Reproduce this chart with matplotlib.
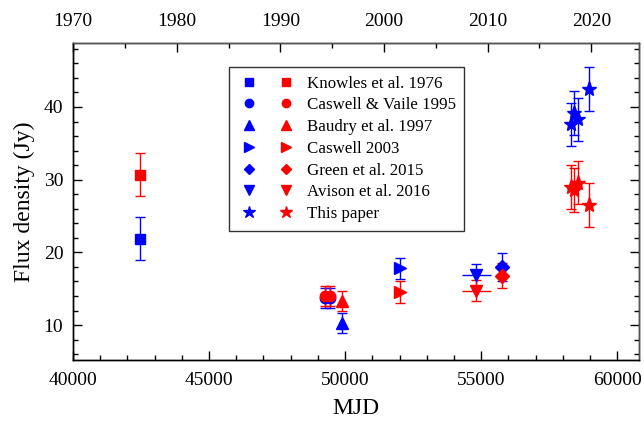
import matplotlib
matplotlib.use("Agg")
import matplotlib.pyplot as plt
from matplotlib.lines import Line2D
from matplotlib.legend_handler import HandlerTuple
from matplotlib.ticker import MultipleLocator

plt.rcParams['font.family'] = ['Liberation Serif', 'DejaVu Serif']

BLUE = '#0000ff'
RED = '#ff0000'

# each entry: label, marker, MJD, blue flux, blue err, red flux, red err
knowles_mjd = [42460]
knowles_blue = [21.9]
knowles_blue_err = [3.0]
knowles_red = [30.7]
knowles_red_err = [3.0]

caswell95_mjd = [49270, 49450]
caswell95_blue = [13.7, 13.7]
caswell95_blue_err = [1.4, 1.4]
caswell95_red = [14.0, 14.0]
caswell95_red_err = [1.35, 1.35]

baudry_mjd = [49900]
baudry_blue = [10.3]
baudry_blue_err = [1.4]
baudry_red = [13.3]
baudry_red_err = [1.4]

caswell03_mjd = [52022]
caswell03_blue = [17.8]
caswell03_blue_err = [1.4]
caswell03_red = [14.6]
caswell03_red_err = [1.5]

green_mjd = [55772]
green_blue = [18.0]
green_blue_err = [1.9]
green_red = [16.8]
green_red_err = [1.7]

avison_mjd = [54816]
avison_mjd_err = [530]
avison_blue = [16.9]
avison_blue_err = [1.5]
avison_red = [14.7]
avison_red_err = [1.45]

paper_mjd = [58285, 58415, 58555, 58958]
paper_blue = [37.6, 39.2, 38.3, 42.5]
paper_blue_err = [3.0, 3.0, 3.0, 3.0]
paper_red = [29.0, 28.6, 29.6, 26.5]
paper_red_err = [3.0, 3.0, 3.0, 3.0]

datasets = [
    ("Knowles et al. 1976", "s", 7, knowles_mjd, knowles_blue, knowles_blue_err, knowles_red, knowles_red_err),
    ("Caswell & Vaile 1995", "o", 7.5, caswell95_mjd, caswell95_blue, caswell95_blue_err, caswell95_red, caswell95_red_err),
    ("Baudry et al. 1997", "^", 9, baudry_mjd, baudry_blue, baudry_blue_err, baudry_red, baudry_red_err),
    ("Caswell 2003", ">", 9, caswell03_mjd, caswell03_blue, caswell03_blue_err, caswell03_red, caswell03_red_err),
    ("Green et al. 2015", "D", 7, green_mjd, green_blue, green_blue_err, green_red, green_red_err),
    ("Avison et al. 2016", "v", 9, avison_mjd, avison_blue, avison_blue_err, avison_red, avison_red_err),
    ("This paper", "*", 11, paper_mjd, paper_blue, paper_blue_err, paper_red, paper_red_err),
]

fig = plt.figure(figsize=(6.44, 4.21), dpi=100)
ax = fig.add_axes([0.1134, 0.1449, 0.8788, 0.753])

ebkw = dict(capsize=3.4, elinewidth=1, capthick=1, linestyle='none')
# blue first, red on top
for col in (BLUE, RED):
    for name, mk, ms, x, yb, eb, yr, er in datasets:
        y, e = (yb, eb) if col == BLUE else (yr, er)
        ax.errorbar(x, y, yerr=e, fmt=mk, ms=ms, color=col, mec=col, **ebkw)
    ax.errorbar(avison_mjd, avison_blue if col == BLUE else avison_red,
                xerr=avison_mjd_err, fmt='none', ecolor=col, elinewidth=1, capsize=0)

ax.set_xlim(40000, 60800)
ax.set_ylim(5.2, 48.8)
ax.xaxis.set_major_locator(MultipleLocator(5000))
ax.xaxis.set_minor_locator(MultipleLocator(1000))
ax.yaxis.set_major_locator(MultipleLocator(10))
ax.yaxis.set_minor_locator(MultipleLocator(2))
ax.tick_params(which='both', direction='in', top=False, right=True, labelsize=14, width=1)
ax.tick_params(which='major', length=6.5)
ax.tick_params(which='minor', length=3.5)
ax.tick_params(axis='x', pad=9)
ax.tick_params(axis='y', pad=7)
ax.set_xlabel("MJD", fontsize=17, labelpad=6)
ax.set_ylabel("Flux density (Jy)", fontsize=17, labelpad=6)

top = ax.twiny()
top.set_xlim(1970, 2024.6)
top.xaxis.set_major_locator(MultipleLocator(10))
top.xaxis.set_minor_locator(MultipleLocator(5))
top.tick_params(which='both', direction='in', labelsize=14, width=1, pad=9)
top.tick_params(which='major', length=6.5)
top.tick_params(which='minor', length=3.5)

for a in (ax, top):
    for sp in a.spines.values():
        sp.set_linewidth(1)
top.spines['top'].set_color('#555555')
top.spines['right'].set_color('#555555')

handles = []
labels = []
for name, mk, ms, *_ in datasets:
    hb = Line2D([], [], marker=mk, ms=ms * 0.8, color=BLUE, linestyle='none')
    hr = Line2D([], [], marker=mk, ms=ms * 0.8, color=RED, linestyle='none')
    handles.append((hb, hr))
    labels.append(name)

leg = ax.legend(handles, labels, handler_map={tuple: HandlerTuple(ndivide=None, pad=0.9)},
                loc='upper left', bbox_to_anchor=(0.2756, 0.924), borderaxespad=0,
                fontsize=12.2, handlelength=3.55, handletextpad=0.55, labelspacing=0.34,
                borderpad=0.5, fancybox=False, framealpha=1, edgecolor='#333333')
leg.get_frame().set_linewidth(1)

fig.savefig("out.png", dpi=100)
